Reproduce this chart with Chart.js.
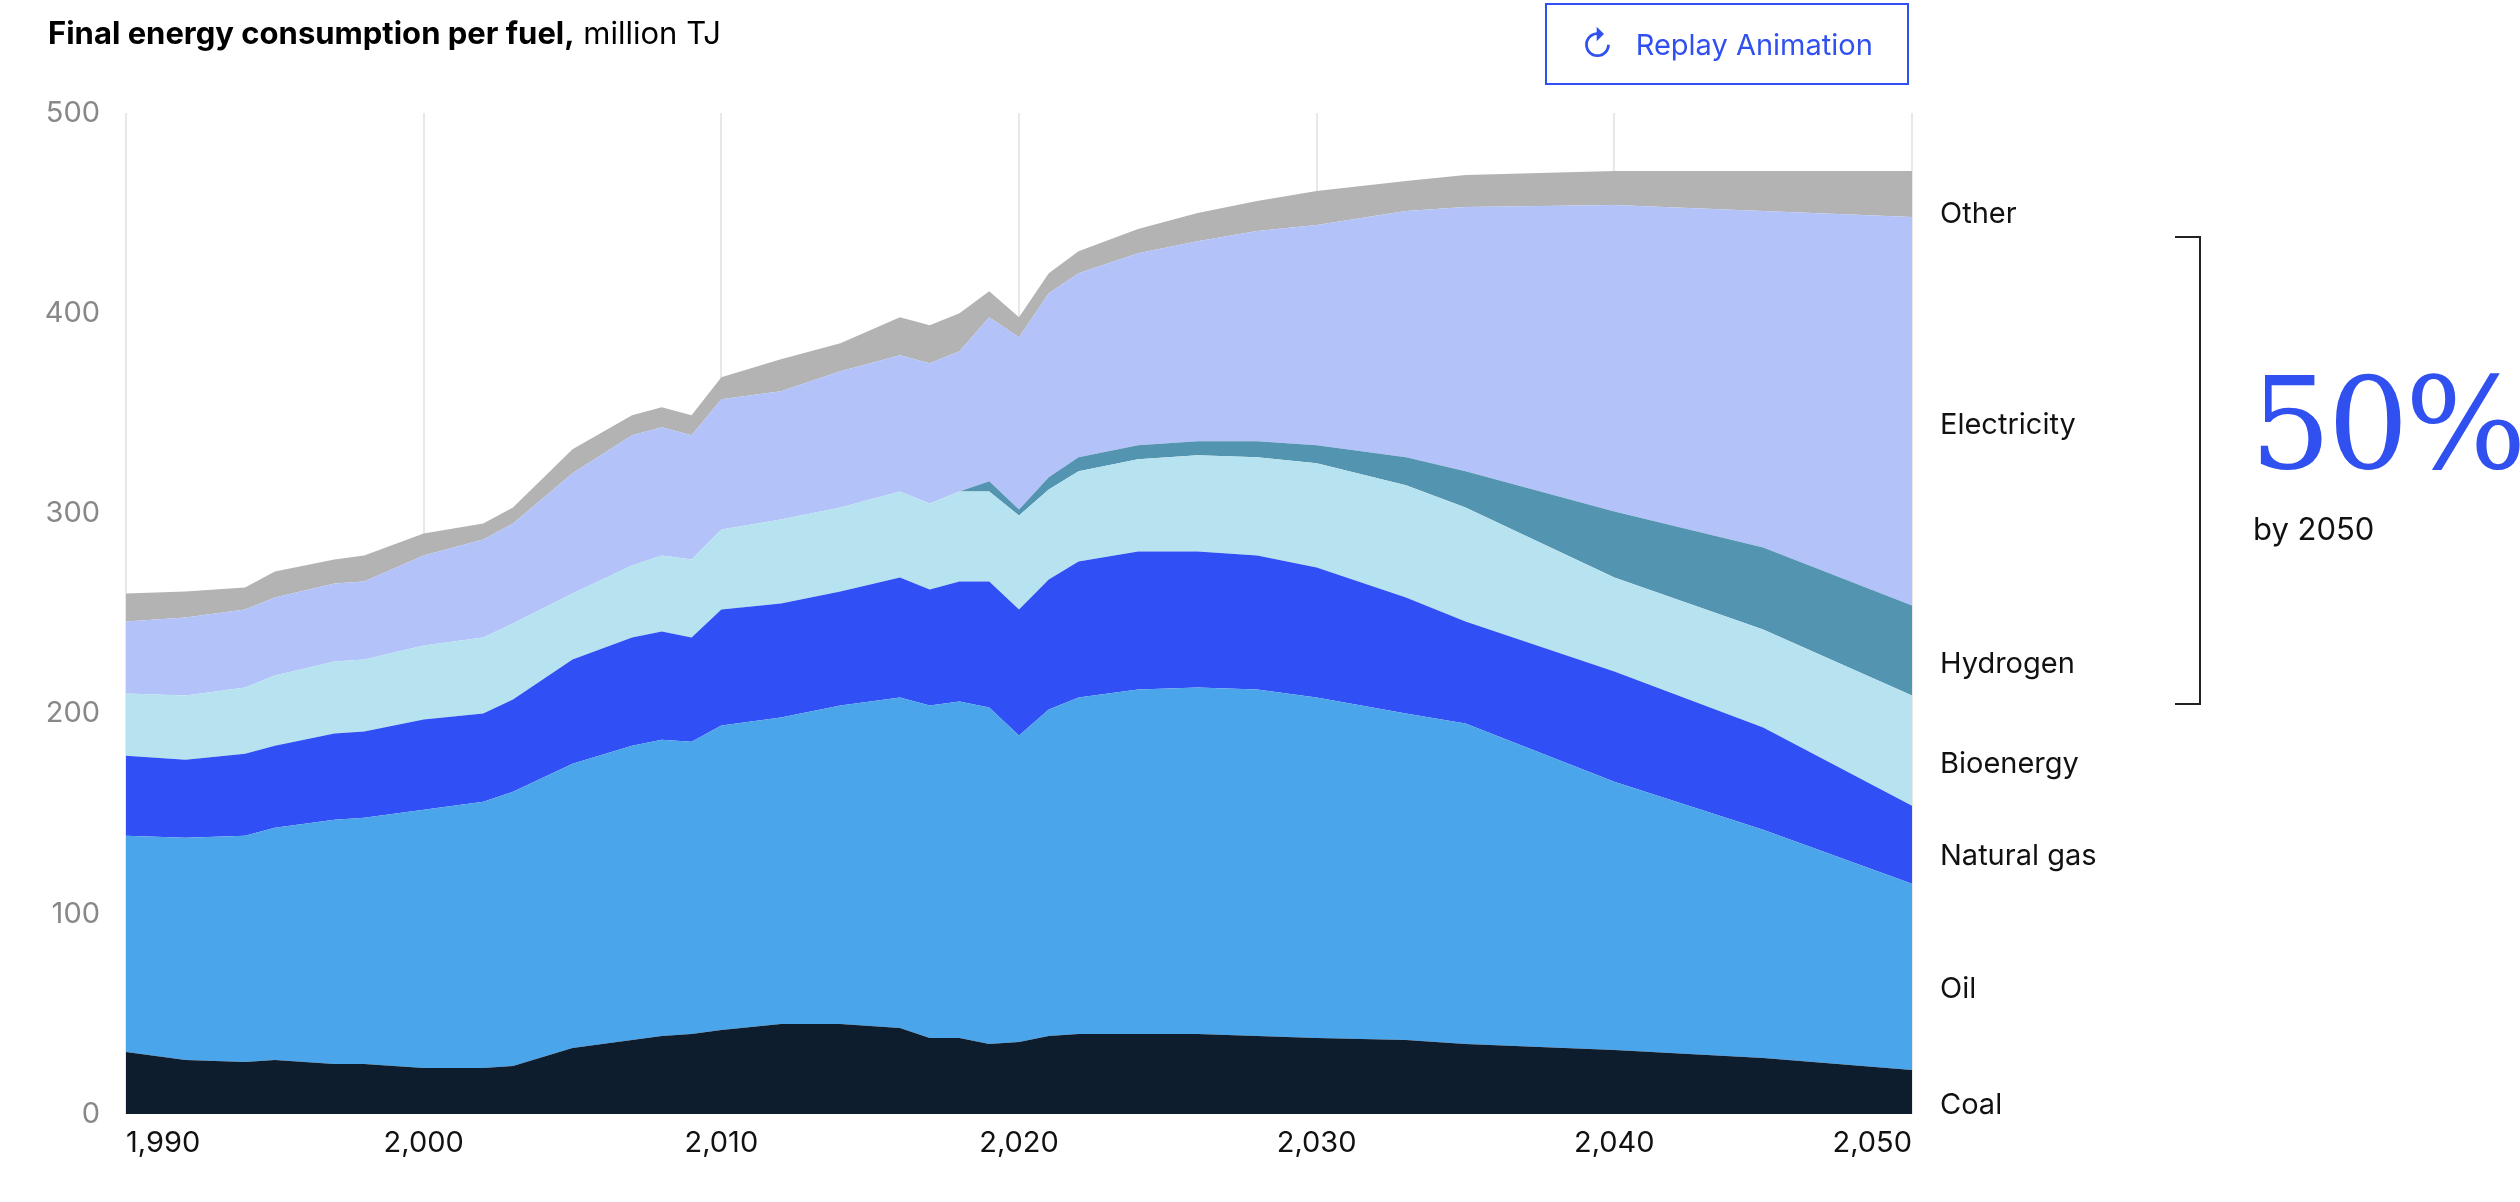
<!DOCTYPE html>
<html><head><meta charset="utf-8">
<script src="https://cdn.jsdelivr.net/npm/chart.js@4/dist/chart.umd.min.js"></script>
<style>
body{margin:0;width:2520px;height:1202px;position:relative;background:#fff;font-family:Inter,"Noto Sans",sans-serif;overflow:hidden}
#c{position:absolute;left:0;top:0}
.t{position:absolute;white-space:nowrap}
.lab{position:absolute;left:1940px;font-size:29px;color:#111;transform:translateY(-50%)}
</style></head><body>
<canvas id="c" width="2520" height="1202"></canvas>
<div class="t" style="left:48px;top:14px;font-size:31px;color:#000"><b>Final energy consumption per fuel,</b> million TJ</div>
<div class="t" style="left:1545px;top:3px;width:364px;height:82px;border:2px solid #3050f0;box-sizing:border-box;color:#3050f0;font-size:29px;display:flex;align-items:center;justify-content:center;gap:22px"><span style="font-size:34px">&#x21bb;</span>Replay Animation</div>
<div class="lab" style="top:212px">Other</div>
<div class="lab" style="top:423px">Electricity</div>
<div class="lab" style="top:662px">Hydrogen</div>
<div class="lab" style="top:762px">Bioenergy</div>
<div class="lab" style="top:854px">Natural gas</div>
<div class="lab" style="top:987px">Oil</div>
<div class="lab" style="top:1103px">Coal</div>
<div style="position:absolute;left:2175px;top:236px;width:26px;height:469px;border:2px solid #222;border-left:none;box-sizing:border-box"></div>
<div class="t" style="left:2250px;top:360px;font-family:'DejaVu Serif','Liberation Serif',serif;font-size:128px;color:#3050f0;line-height:1;letter-spacing:-4px">50%</div>
<div class="t" style="left:2253px;top:510px;font-size:31px;color:#111">by 2050</div>
<script>
const years=[1990,1992,1994,1995,1997,1998,2000,2002,2003,2005,2007,2008,2009,2010,2012,2014,2016,2017,2018,2019,2020,2021,2022,2024,2026,2028,2030,2033,2035,2040,2045,2050];
// cumulative top of each stacked band
const coalTop=[31,27,26,27,25,25,23,23,24,33,37,39,40,42,45,45,43,38,38,35,36,39,40,40,40,39,38,37,35,32,28,22];
const oilTop=[139,138,139,143,147,148,152,156,161,175,184,187,186,194,198,204,208,204,206,203,189,202,208,212,213,212,208,200,195,166,142,115];
const gasTop=[179,177,180,184,190,191,197,200,207,227,238,241,238,252,255,261,268,262,266,266,252,267,276,281,281,279,273,258,246,221,193,154];
const bioTop=[210,209,213,219,226,227,234,238,245,260,274,279,277,292,297,303,311,305,311,311,299,312,321,327,329,328,325,314,303,268,242,209];
const hydTop=[210,209,213,219,226,227,234,238,245,260,274,279,277,292,297,303,311,305,311,316,302,318,328,334,336,336,334,328,321,301,283,254];
const elecTop=[246,248,252,258,265,266,279,287,295,320,339,343,339,357,361,371,379,375,381,398,388,410,420,430,436,441,444,451,453,454,451,448];
const otherTop=[260,261,263,271,277,279,290,295,303,332,349,353,349,368,377,385,398,394,400,411,398,420,431,442,450,456,461,466,469,471,471,471];
const names=['Coal','Oil','Natural gas','Bioenergy','Hydrogen','Electricity','Other'];
const series=[coalTop,oilTop,gasTop,bioTop,hydTop,elecTop,otherTop];
const colors=['#0e1d2e','#4ba5ea','#3050f5','#b6e3ef','#5394b0','#b3c3fa','#b3b3b3'];
const xTicks=[1990,2000,2010,2020,2030,2040,2050];
const yTicks=[0,100,200,300,400,500];
new Chart(document.getElementById('c'),{type:'line',
data:{datasets:series.map((s,i)=>({label:names[i],data:s.map((v,j)=>({x:years[j],y:v})),
 backgroundColor:colors[i],borderWidth:0,pointRadius:0,fill:i===0?'origin':'-1',tension:0}))},
options:{responsive:false,animation:false,
 layout:{padding:{top:113,right:608,left:0,bottom:0}},
 plugins:{legend:{display:false},tooltip:{enabled:false}},
 scales:{
  x:{type:'linear',min:1990,max:2050,border:{display:false},
   afterBuildTicks:a=>{a.ticks=xTicks.map(v=>({value:v}));},
   afterFit:s=>{s.height=88;},
   grid:{color:'#e8e8e8',lineWidth:2,drawTicks:false},
   ticks:{align:'inner',color:'#111',font:{size:29,family:'Inter'},padding:12,maxRotation:0}},
  y:{min:0,max:500,border:{display:false},
   afterBuildTicks:a=>{a.ticks=yTicks.map(v=>({value:v}));},
   afterFit:s=>{s.width=126;},
   grid:{display:false},
   ticks:{color:'#888',font:{size:29,family:'Inter'},padding:18}}}}});
</script></body></html>
